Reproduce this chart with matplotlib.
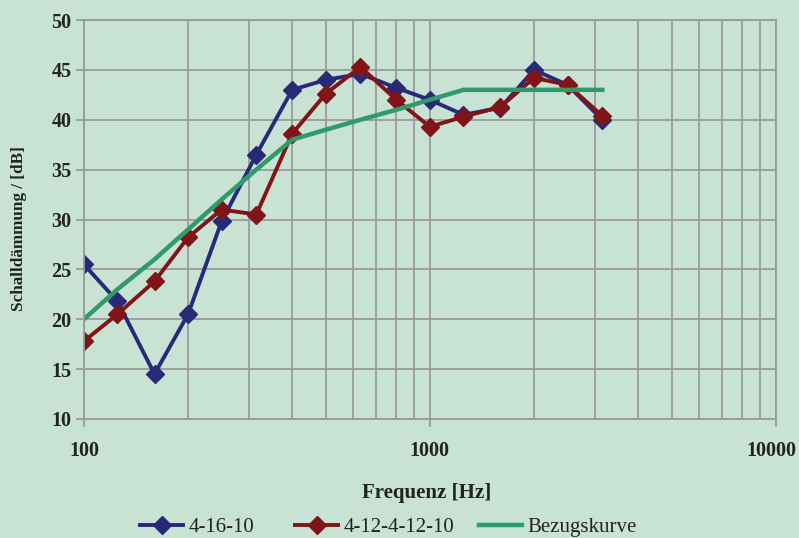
import matplotlib
matplotlib.use("Agg")
from matplotlib import pyplot as plt
from matplotlib.ticker import LogLocator, FixedLocator, NullFormatter
from matplotlib.transforms import ScaledTranslation

freq = [100, 125, 160, 200, 250, 315, 400, 500, 630, 800, 1000, 1250, 1600, 2000, 2500, 3150]
r_41610 = [25.5, 21.8, 14.5, 20.5, 29.8, 36.5, 43.0, 44.0, 44.6, 43.2, 42.0, 40.5, 41.2, 45.0, 43.5, 40.0]
r_4124 = [17.8, 20.5, 23.8, 28.2, 31.0, 30.5, 38.6, 42.6, 45.3, 42.0, 39.3, 40.3, 41.3, 44.2, 43.5, 40.4]
bezug = [20, 23, 26, 29, 32, 35, 38, 39, 40, 41, 42, 43, 43, 43, 43, 43]
x_ticks = [100, 1000, 10000]
y_ticks = [10, 15, 20, 25, 30, 35, 40, 45, 50]

bg = '#c8e2d3'
grid_col = '#9a9a9a'
txt = '#222222'
plt.rcParams['font.family'] = ['Liberation Serif', 'DejaVu Serif']

fig = plt.figure(figsize=(7.99, 5.38), dpi=100, facecolor=bg)
ax = fig.add_axes([0.105, 0.2212, 0.866, 0.7416], facecolor=bg)

l1, = ax.plot(freq, r_41610, color='#29297a', lw=2.8, marker='D', ms=9.5, label='4-16-10')
l2, = ax.plot(freq, r_4124, color='#801417', lw=2.8, marker='D', ms=9.5, label='4-12-4-12-10')
l3, = ax.plot(freq, bezug, color='#2f9a6a', lw=3.2, label='Bezugskurve')

ax.set_xscale('log')
ax.set_xlim(100, 10000)
ax.set_ylim(10, 50)
ax.xaxis.set_major_locator(FixedLocator(x_ticks))
ax.set_xticklabels([str(t) for t in x_ticks])
ax.xaxis.set_minor_locator(LogLocator(base=10, subs=range(2, 10)))
ax.xaxis.set_minor_formatter(NullFormatter())
ax.set_yticks(y_ticks)

ax.grid(True, which='both', color=grid_col, lw=1.3)
ax.set_axisbelow(True)
for s in ax.spines.values():
    s.set_color(grid_col)
    s.set_linewidth(1.3)

ax.tick_params(axis='x', which='major', length=6, width=1.3, color=grid_col,
               pad=10, labelsize=14.5)
ax.tick_params(axis='x', which='minor', length=0)
ax.tick_params(axis='y', length=6, width=1.3, color=grid_col, pad=3, labelsize=14.5)
for lab in ax.get_xticklabels() + ax.get_yticklabels():
    lab.set_fontweight('bold')
    lab.set_color(txt)
# keep "10000" inside the figure edge
last = ax.get_xticklabels()[-1]
last.set_transform(last.get_transform() + ScaledTranslation(-4 / 100, 0, fig.dpi_scale_trans))

fig.text(0.5335, 1 - 493 / 538, 'Frequenz [Hz]', fontsize=15, fontweight='bold',
         color=txt, ha='center', va='center')
fig.text(19 / 799, 1 - 229 / 538, 'Schalldämmung / [dB]', fontsize=12.3, fontweight='bold',
         color=txt, ha='center', va='center', rotation=90)

# legend entries placed individually (Excel-style slots)
for h, x0 in [(l1, 143), (l2, 298), (l3, 482)]:
    lg = fig.legend([h], [h.get_label()], loc='center left',
                    bbox_to_anchor=(x0 / 799 - 0.012, 1 - 527 / 538), frameon=False,
                    fontsize=15, handlelength=2.1, handletextpad=0.25,
                    borderaxespad=0, borderpad=0.3)
    for t in lg.get_texts():
        t.set_color(txt)

fig.savefig('out.png', dpi=100, facecolor=bg)
